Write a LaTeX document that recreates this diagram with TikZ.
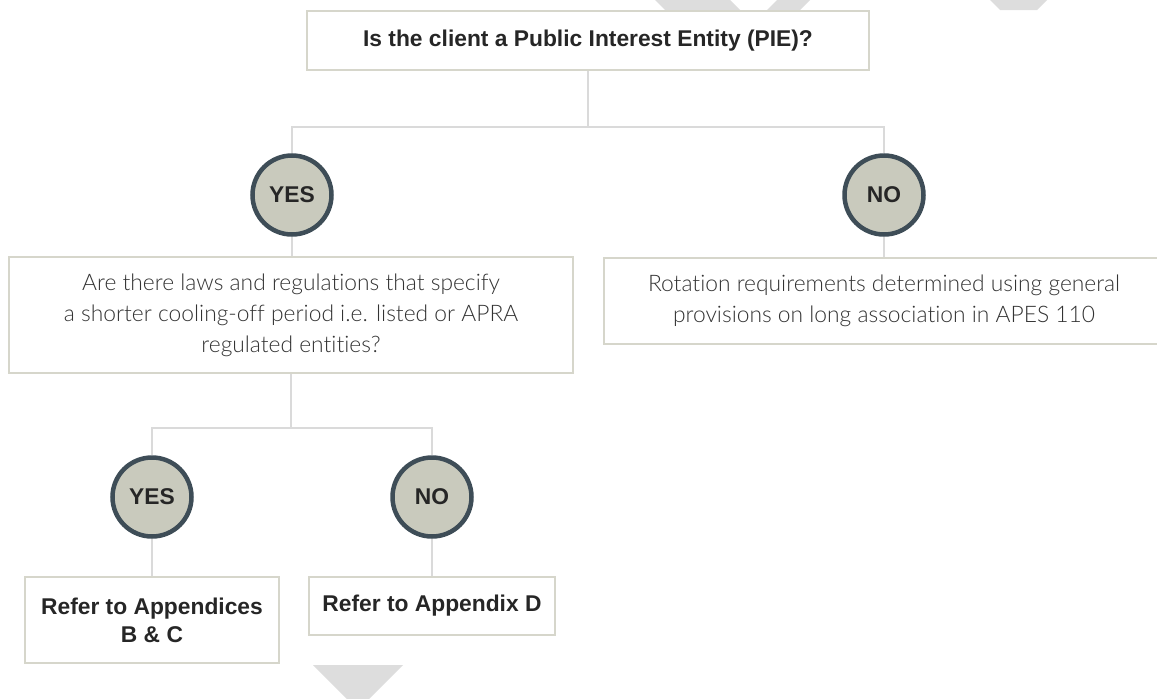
\documentclass[tikz,border=0pt]{standalone}
\usepackage{fontspec}
\setmainfont{Liberation Sans}
\newfontfamily\lightfont{Lato}[UprightFont={* Light},Ligatures=NoCommon]
\usetikzlibrary{positioning}

\definecolor{boxline}{HTML}{D6D6CB}
\definecolor{linkline}{HTML}{DADADA}
\definecolor{discfill}{HTML}{C9CABD}
\definecolor{discline}{HTML}{3E4D57}
\definecolor{inktext}{HTML}{262626}
\definecolor{softtext}{HTML}{333333}
\definecolor{wmark}{HTML}{DDDDDD}

\begin{document}
\begin{tikzpicture}[x=1pt,y=-1pt]
        \tikzstyle{question}=[rectangle,draw=boxline,line width=2pt,fill=white,align=center,inner sep=0pt]
        \tikzstyle{boldtext}=[font=\fontsize{22.8}{28}\selectfont\bfseries,text=inktext]
        \tikzstyle{lighttext}=[font=\lightfont\fontsize{22.8}{31}\selectfont,text=softtext]
        \tikzstyle{choice}=[circle,draw=discline,line width=4.5pt,fill=discfill,minimum size=79pt,inner sep=0pt,boldtext]
        \tikzstyle{edge}=[draw=linkline,line width=2pt]
        \useasboundingbox (0,0) rectangle (1157,699);
        % faint background marks
        \fill[wmark] (313,665) -- (403,665) -- (358,710) -- cycle;
        \fill[wmark] (655,0) -- (730,0) -- (740,10) -- (665,10) -- cycle;
        \fill[wmark] (777,0) -- (810,0) -- (800,10) -- (767,10) -- cycle;
        \fill[wmark] (990,0) -- (1047,0) -- (1037,10) -- (1000,10) -- cycle;
        \begin{scope}
           \node [question,boldtext,minimum width=562pt,minimum height=59pt] (q1) at (588,40.5) {Is the client a Public Interest Entity (PIE)?};
           \coordinate (split1) at (588,127);
           \node [choice] (a1) at (292,195) {YES};
           \node [choice] (a2) at (884,195) {NO};
           \node [question,lighttext,minimum width=564pt,minimum height=116pt] (q2) at (291,315) {Are there laws and regulations that specify\\a shorter cooling-off period i.e. listed or APRA\\regulated entities?};
           \node [question,lighttext,minimum width=560pt,minimum height=86pt] (r1) at (884,301) {Rotation requirements determined using general\\provisions on long association in APES 110};
           \coordinate (split2) at (291,428);
           \node [choice] (b1) at (152,497) {YES};
           \node [choice] (b2) at (432,497) {NO};
           \node [question,boldtext,minimum width=254pt,minimum height=86pt] (r2) at (152,620) {Refer to Appendices\\B \& C};
           \node [question,boldtext,minimum width=246pt,minimum height=58pt] (r3) at (432,606) {Refer to Appendix D};
           \path[edge] (q1) -- (split1);
           \path[edge] (a1) |- (split1) -| (a2);
           \path[edge] (a1) -- (a1 |- q2.north);
           \path[edge] (a2) -- (r1);
           \path[edge] (q2) -- (split2);
           \path[edge] (b1) |- (split2) -| (b2);
           \path[edge] (b1) -- (r2);
           \path[edge] (b2) -- (r3);
        \end{scope}
\end{tikzpicture}
\end{document}
